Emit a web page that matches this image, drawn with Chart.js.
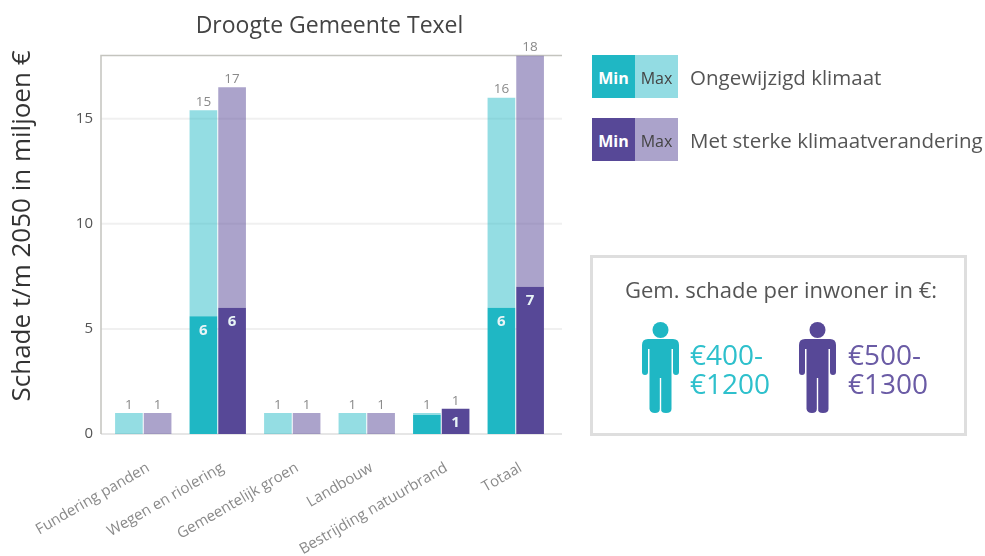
<!DOCTYPE html>
<html>
<head>
<meta charset="utf-8">
<script src="https://cdn.jsdelivr.net/npm/chart.js@4"></script>
<style>
  body { margin: 0; background: #fff; font-family: "Open Sans", sans-serif; }
  #wrap { position: relative; width: 985px; height: 556px; overflow: hidden; filter: blur(0.4px); }
  canvas { position: absolute; left: 0; top: 0; }
  .swatch { position: absolute; width: 43px; height: 43px; line-height: 46px; text-align: center; font-size: 16px; }
  .legend-text { position: absolute; left: 690px; font-size: 20.5px; color: #555; white-space: nowrap; }
  #box { position: absolute; left: 590px; top: 255px; width: 371px; height: 175px; border: 3px solid #dedede; }
  #box-title { position: absolute; left: 625px; top: 274px; font-size: 22px; color: #555; white-space: nowrap; }
  .amount { position: absolute; top: 340px; font-size: 28px; line-height: 29px; }
  svg { position: absolute; top: 322px; }
</style>
</head>
<body>
<div id="wrap">
  <canvas id="schadeChart" width="985" height="556"></canvas>

  <div class="swatch" style="left:592px;top:55px;background:#1fb7c4;color:#fff;font-weight:700">Min</div>
  <div class="swatch" style="left:635px;top:55px;background:#93dce3;color:#444">Max</div>
  <div class="legend-text" style="top:63px">Ongewijzigd klimaat</div>
  <div class="swatch" style="left:592px;top:118px;background:#574897;color:#fff;font-weight:700">Min</div>
  <div class="swatch" style="left:635px;top:118px;background:#aba3cb;color:#444">Max</div>
  <div class="legend-text" style="top:126px">Met sterke klimaatverandering</div>

  <div id="box"></div>
  <div id="box-title">Gem. schade per inwoner in €:</div>

  <svg style="left:642px" width="37" height="91" viewBox="0 0 37 91" fill="#1fb7c4">
    <circle cx="18.5" cy="8" r="8"/>
    <path d="M6 17H31Q37 17 37 23V50Q37 53 34 53T31 50V27H29.5V87Q29.5 91 24 91T19.2 87V56H17.8V87Q17.8 91 13 91T7.5 87V27H6V50Q6 53 3 53T0 50V23Q0 17 6 17Z"/>
  </svg>
  <div class="amount" style="left:690px;color:#2ec0cc">€400-<br>€1200</div>

  <svg style="left:799px" width="37" height="91" viewBox="0 0 37 91" fill="#574897">
    <circle cx="18.5" cy="8" r="8"/>
    <path d="M6 17H31Q37 17 37 23V50Q37 53 34 53T31 50V27H29.5V87Q29.5 91 24 91T19.2 87V56H17.8V87Q17.8 91 13 91T7.5 87V27H6V50Q6 53 3 53T0 50V23Q0 17 6 17Z"/>
  </svg>
  <div class="amount" style="left:848px;color:#6a5ba5">€500-<br>€1300</div>
</div>

<script>
var categories = ['Fundering panden', 'Wegen en riolering', 'Gemeentelijk groen', 'Landbouw', 'Bestrijding natuurbrand', 'Totaal'];

// bar heights
var ongewijzigdMin = [0, 5.6, 0, 0, 0.9, 6];
var ongewijzigdMax = [1, 15.4, 1, 1, 1, 16];
var sterkMin = [0, 6, 0, 0, 1.2, 7];
var sterkMax = [1, 16.5, 1, 1, 1.2, 18];

// printed labels (rounded in the original)
var ongewijzigdMinLabels = [null, 6, null, null, null, 6];
var ongewijzigdMaxLabels = [1, 15, 1, 1, 1, 16];
var sterkMinLabels = [null, 6, null, null, 1, 7];
var sterkMaxLabels = [1, 17, 1, 1, 1, 18];

var yAxisTitle = 'Schade t/m 2050 in miljoen €';

function rest(max, min) {
    return max.map(function (v, i) { return +(v - min[i]).toFixed(2); });
}

var font = '"Open Sans", sans-serif';

// axis and grid lines stick out past the bars on both sides
var gridLines = {
    id: 'gridLines',
    beforeDatasetsDraw: function (chart) {
        var c = chart.ctx, y = chart.scales.y, area = chart.chartArea;
        var left = area.left - 5, right = area.right + 9;
        c.save();
        [5, 10, 15].forEach(function (v) {
            c.strokeStyle = '#f0f0f0';
            c.lineWidth = 2;
            c.beginPath();
            c.moveTo(left, y.getPixelForValue(v));
            c.lineTo(right, y.getPixelForValue(v));
            c.stroke();
        });
        c.strokeStyle = '#e6e6e6';
        c.beginPath();
        c.moveTo(left, y.getPixelForValue(0));
        c.lineTo(right, y.getPixelForValue(0));
        c.stroke();
        c.strokeStyle = '#c4c4be';
        c.lineWidth = 1.5;
        c.beginPath();
        c.moveTo(right, y.getPixelForValue(18));
        c.lineTo(left, y.getPixelForValue(18));
        c.lineTo(left, y.getPixelForValue(0));
        c.stroke();
        c.restore();
    }
};

// value labels: white inside the dark bars, grey above the light ones
var barLabels = {
    id: 'barLabels',
    afterDatasetsDraw: function (chart) {
        var c = chart.ctx;
        c.save();
        c.textAlign = 'center';
        c.textBaseline = 'middle';
        chart.data.datasets.forEach(function (ds, d) {
            chart.getDatasetMeta(d).data.forEach(function (bar, i) {
                var text = ds.printed[i];
                if (text === null) return;
                if (ds.inside) {
                    c.font = '700 15px ' + font;
                    c.fillStyle = '#e8f4f6';
                    c.fillText(text, bar.x, bar.y + 14);
                } else {
                    c.font = '13.5px ' + font;
                    c.fillStyle = '#8a8a8a';
                    c.fillText(text, bar.x, bar.y - 8);
                }
            });
        });
        c.restore();
    }
};

// y title sits higher than the middle of the axis in the original
var yTitle = {
    id: 'yTitle',
    afterDraw: function (chart) {
        var c = chart.ctx;
        c.save();
        c.translate(23, 226);
        c.rotate(-Math.PI / 2);
        c.textAlign = 'center';
        c.textBaseline = 'middle';
        c.font = '26px ' + font;
        c.fillStyle = '#333';
        c.fillText(yAxisTitle, 0, 0);
        c.restore();
    }
};

var ctx = document.getElementById('schadeChart').getContext('2d');

new Chart(ctx, {
    type: 'bar',
    data: {
        labels: categories,
        datasets: [
            { label: 'Ongewijzigd klimaat min', stack: 'a', data: ongewijzigdMin, backgroundColor: '#1fb7c4', printed: ongewijzigdMinLabels, inside: true },
            { label: 'Ongewijzigd klimaat max', stack: 'a', data: rest(ongewijzigdMax, ongewijzigdMin), backgroundColor: 'rgba(31,183,196,0.48)', printed: ongewijzigdMaxLabels },
            { label: 'Met sterke klimaatverandering min', stack: 'b', data: sterkMin, backgroundColor: '#574897', printed: sterkMinLabels, inside: true },
            { label: 'Met sterke klimaatverandering max', stack: 'b', data: rest(sterkMax, sterkMin), backgroundColor: 'rgba(87,72,151,0.5)', printed: sterkMaxLabels }
        ]
    },
    options: {
        responsive: false,
        animation: false,
        layout: { padding: { right: 432 } },
        datasets: { bar: { categoryPercentage: 0.77, barPercentage: 0.965 } },
        plugins: {
            legend: { display: false },
            tooltip: { enabled: false },
            title: {
                display: true,
                text: 'Droogte Gemeente Texel',
                fullSize: false,
                color: '#444',
                font: { family: font, size: 23, weight: '400' },
                padding: { top: 13, bottom: 15 }
            }
        },
        scales: {
            x: {
                stacked: true,
                grid: { display: false },
                border: { display: false },
                afterFit: function (s) { s.height = 122; },
                ticks: {
                    minRotation: 30,
                    maxRotation: 30,
                    autoSkip: false,
                    padding: 17,
                    labelOffset: 5,
                    color: '#8a8a8a',
                    font: { family: font, size: 15 }
                }
            },
            y: {
                stacked: true,
                min: 0,
                max: 18,
                grid: { display: false },
                border: { display: false },
                afterFit: function (s) { s.width = 106; },
                ticks: {
                    stepSize: 5,
                    includeBounds: false,
                    padding: 5,
                    color: '#555',
                    font: { family: font, size: 15 }
                }
            }
        }
    },
    plugins: [gridLines, barLabels, yTitle]
});
</script>
</body>
</html>
